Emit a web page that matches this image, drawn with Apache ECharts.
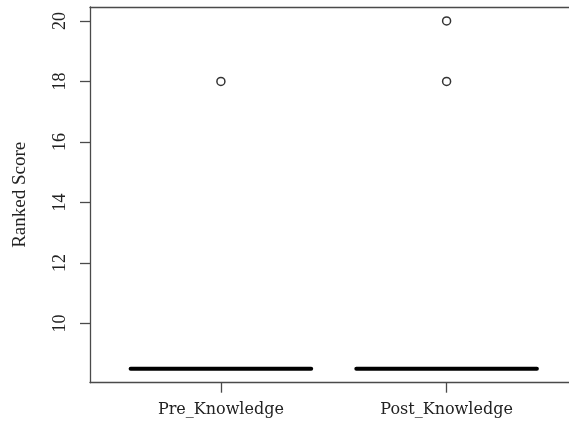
<!DOCTYPE html>
<html>
<head>
<meta charset="utf-8">
<script src="https://cdn.jsdelivr.net/npm/echarts@6/dist/echarts.min.js"></script>
<style>
  html, body { margin: 0; padding: 0; background: #fff; }
  #main { width: 569px; height: 425px; }
</style>
</head>
<body>
<div id="main"></div>
<script>
// box statistics per group (all collapsed at 8.5)
var categories = ['Pre_Knowledge', 'Post_Knowledge'];
var whiskerLow = [8.5, 8.5];
var q1 = [8.5, 8.5];
var medians = [8.5, 8.5];
var q3 = [8.5, 8.5];
var whiskerHigh = [8.5, 8.5];
// outliers: [group index (1-based), value]
var outliers = [[1, 18], [2, 18], [2, 20]];
var yTicks = [10, 12, 14, 16, 18, 20];

var boxData = [];
for (var i = 0; i < categories.length; i++) {
	boxData.push([i + 1, whiskerLow[i], q1[i], medians[i], q3[i], whiskerHigh[i]]);
}

var myChart = echarts.init(document.getElementById('main'));

var lineCol = '#4a4a4a';

var option = {
	animation: false,
	grid: {
		left: 90,
		top: 7,
		right: -8.5,
		height: 375.7,
		outerBoundsMode: 'none',
		show: false
	},
	xAxis: [{
		type: 'value',
		min: 0.42,
		max: 2.58,
		splitLine: { show: false },
		axisLine: { show: true, lineStyle: { color: lineCol, width: 1.3 } },
		axisTick: { show: true, customValues: [1, 2], length: 10, lineStyle: { color: lineCol, width: 1.3 } },
		axisLabel: {
			customValues: [1, 2],
			formatter: function (v) { return categories[Math.round(v) - 1]; },
			fontFamily: 'DejaVu Serif',
			fontSize: 16,
			color: '#222',
			margin: 19
		}
	}, {
		// top edge of the plot frame
		type: 'value',
		position: 'top',
		min: 0.42,
		max: 2.58,
		splitLine: { show: false },
		axisLine: { show: true, lineStyle: { color: lineCol, width: 1.3 } },
		axisTick: { show: false },
		axisLabel: { show: false }
	}],
	yAxis: {
		type: 'value',
		min: 8.04,
		max: 20.46,
		name: 'Ranked Score',
		nameLocation: 'middle',
		nameRotate: 90,
		nameGap: 60,
		nameTextStyle: { fontFamily: 'Liberation Serif', fontSize: 19, color: '#222' },
		splitLine: { show: false },
		axisLine: { show: true, lineStyle: { color: lineCol, width: 1.3 } },
		axisTick: { show: true, customValues: yTicks, length: 10, lineStyle: { color: lineCol, width: 1.3 } },
		axisLabel: {
			customValues: yTicks,
			rotate: 90,
			fontFamily: 'Liberation Serif',
			fontSize: 18,
			color: '#222',
			margin: 21
		}
	},
	series: [
		{
			type: 'custom',
			data: boxData,
			renderItem: function (params, api) {
				var x = api.value(0);
				var half = 0.4, staple = 0.2;
				var l = api.coord([x - half, api.value(2)]);
				var r = api.coord([x + half, api.value(4)]);
				var mL = api.coord([x - half, api.value(3)]);
				var mR = api.coord([x + half, api.value(3)]);
				var wLo = api.coord([x, api.value(1)]);
				var wHi = api.coord([x, api.value(5)]);
				var q1p = api.coord([x, api.value(2)]);
				var q3p = api.coord([x, api.value(4)]);
				var sL = api.coord([x - staple, 0])[0];
				var sR = api.coord([x + staple, 0])[0];
				var thin = { stroke: '#000', lineWidth: 1.3, fill: null };
				return {
					type: 'group',
					children: [
						{ type: 'line', shape: { x1: wLo[0], y1: wLo[1], x2: q1p[0], y2: q1p[1] }, style: { stroke: '#000', lineWidth: 1.3, lineDash: [4, 3] } },
						{ type: 'line', shape: { x1: q3p[0], y1: q3p[1], x2: wHi[0], y2: wHi[1] }, style: { stroke: '#000', lineWidth: 1.3, lineDash: [4, 3] } },
						{ type: 'line', shape: { x1: sL, y1: wLo[1], x2: sR, y2: wLo[1] }, style: thin },
						{ type: 'line', shape: { x1: sL, y1: wHi[1], x2: sR, y2: wHi[1] }, style: thin },
						{ type: 'rect', shape: { x: l[0], y: r[1], width: r[0] - l[0], height: l[1] - r[1] }, style: thin },
						{ type: 'line', shape: { x1: mL[0], y1: mL[1], x2: mR[0], y2: mR[1] }, style: { stroke: '#000', lineWidth: 4, lineCap: 'round' } }
					]
				};
			}
		},
		{
			type: 'scatter',
			data: outliers,
			symbol: 'circle',
			symbolSize: 8,
			itemStyle: { color: '#fff', borderColor: '#000', borderWidth: 1.5 }
		}
	]
};

myChart.setOption(option);
</script>
</body>
</html>
